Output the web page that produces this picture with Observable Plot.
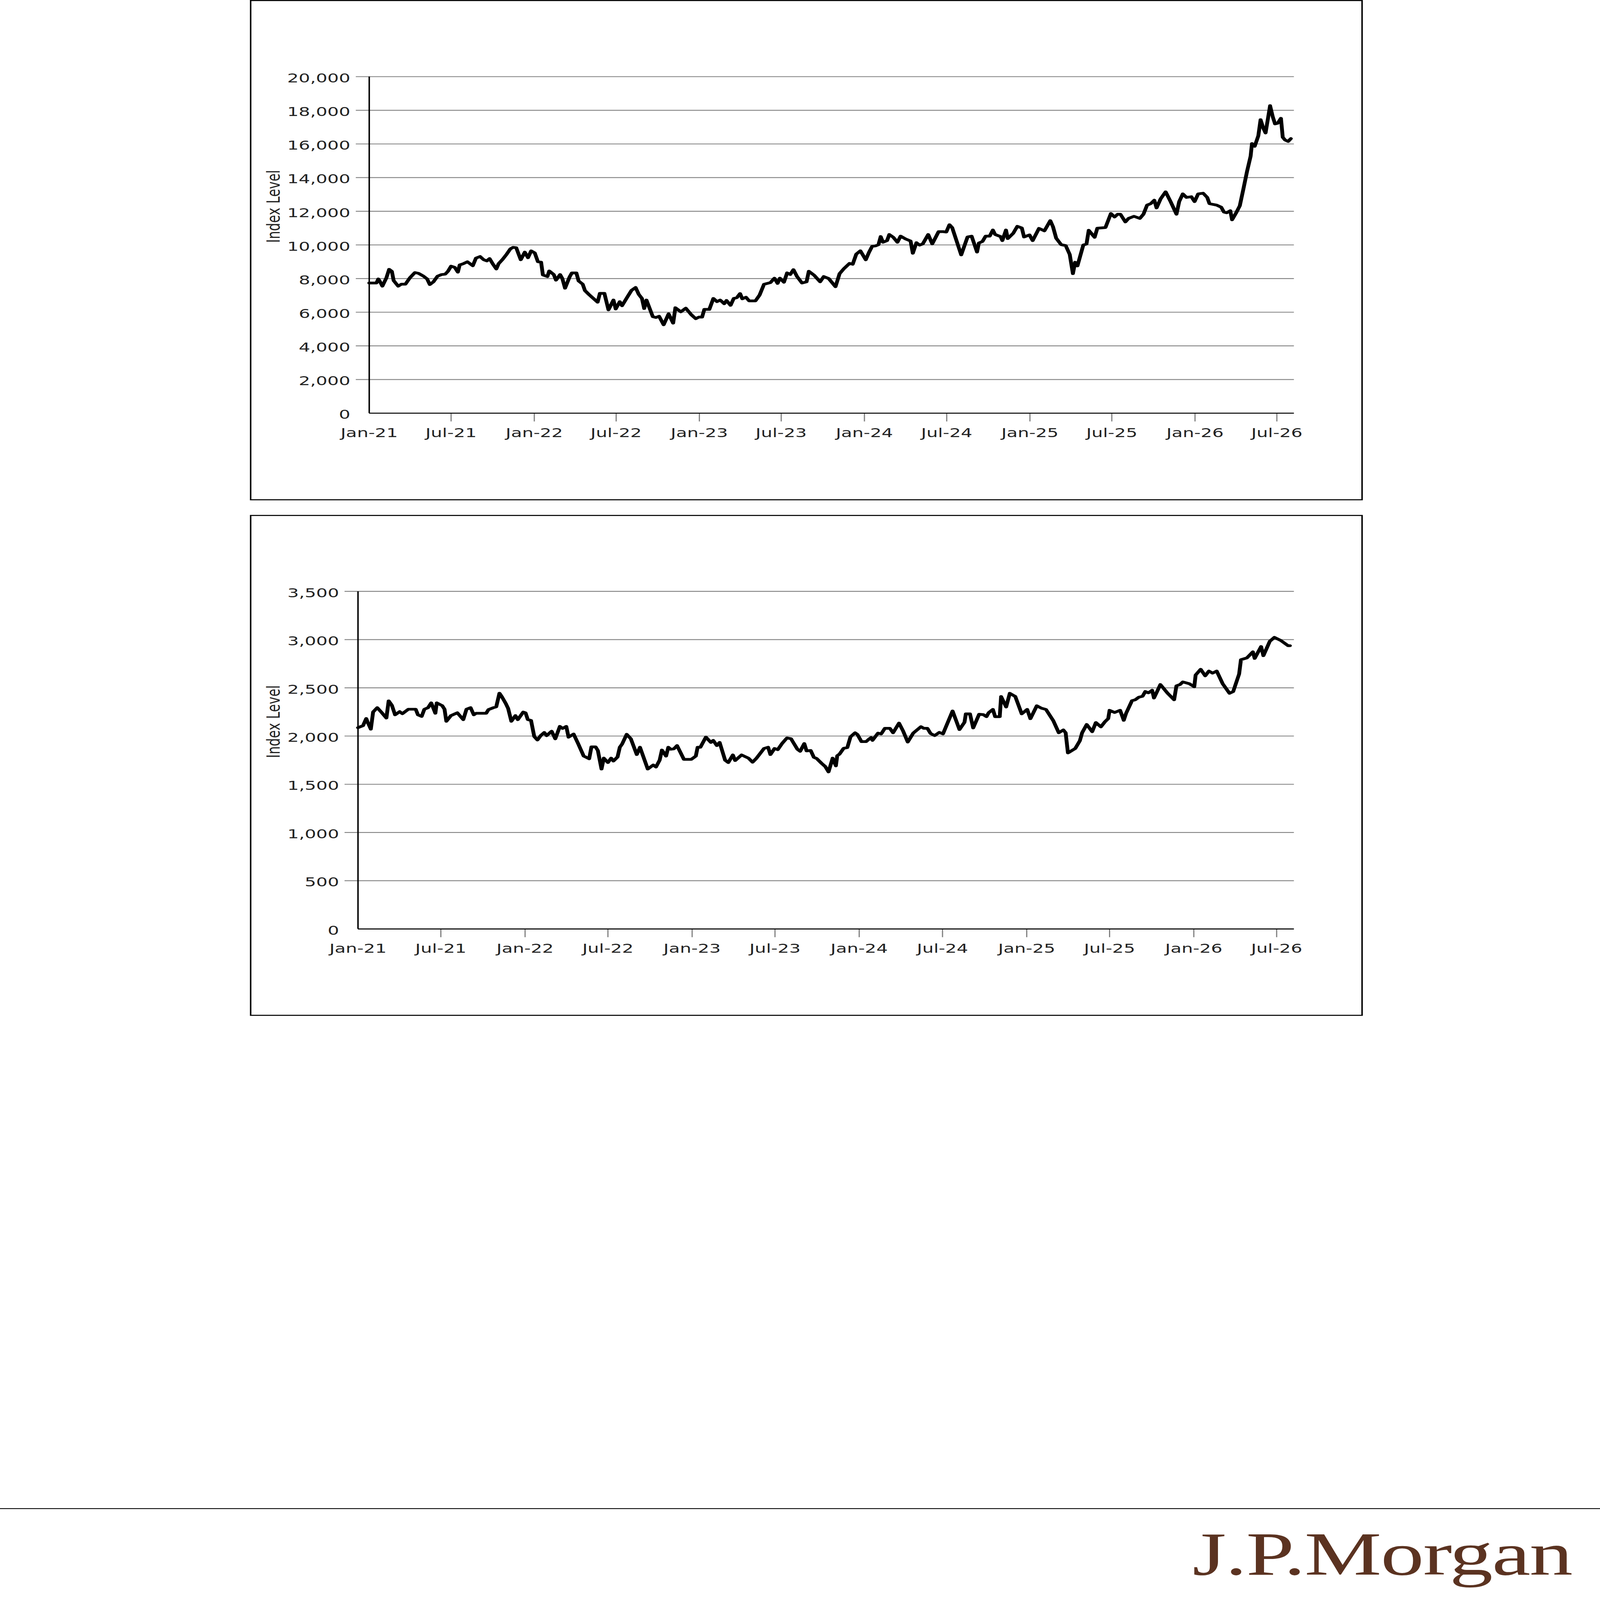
<!DOCTYPE html>
<html><head><meta charset="utf-8">
<script src="https://cdn.jsdelivr.net/npm/d3@7"></script>
<script src="https://cdn.jsdelivr.net/npm/@observablehq/plot@0.6"></script>
<style>
html,body{margin:0;padding:0;background:#fff;overflow:hidden;}
#page{position:absolute;left:0;top:0;width:5410px;height:7650px;background:#fff;overflow:hidden;transform-origin:0 0;}
.box{position:absolute;box-sizing:border-box;border:5px solid #000;background:#fff;}
.box svg{position:absolute;left:0;top:0;}
#rule{position:absolute;left:0;top:7211px;width:5410px;height:4px;background:#000;}
#logo{position:absolute;left:3990px;top:7260px;}
</style></head><body>
<div id="page">
  <div class="box" id="boxA" style="left:845px;top:0px;width:3763px;height:2392px"></div>
  <div class="box" id="boxB" style="left:845px;top:2462px;width:3763px;height:2395px"></div>
  <div id="rule"></div>
  <svg id="logo" width="1400" height="380"><text x="42" y="268" font-family="Liberation Serif" font-size="293" letter-spacing="-3" fill="#5b3321">J.P.Morgan</text></svg>
</div>
<script>
const xTickDates = ["2021-01-01","2021-07-01","2022-01-01","2022-07-01","2023-01-01","2023-07-01","2024-01-01","2024-07-01","2025-01-01","2025-07-01","2026-01-01","2026-07-01"];
const xDomain = ["2021-01-01","2026-08-08"];
const yTicksA = [0,2000,4000,6000,8000,10000,12000,14000,16000,18000,20000];
const yTicksB = [0,500,1000,1500,2000,2500,3000,3500];
const yLabel = "Index Level";

const datesA = ["2021-01-01","2021-01-17","2021-01-21","2021-01-25","2021-01-30","2021-02-08","2021-02-14","2021-02-20","2021-02-24","2021-03-06","2021-03-13","2021-03-22","2021-04-01","2021-04-12","2021-04-20","2021-05-01","2021-05-09","2021-05-15","2021-05-23","2021-06-01","2021-06-10","2021-06-18","2021-06-24","2021-07-01","2021-07-09","2021-07-16","2021-07-20","2021-07-28","2021-08-06","2021-08-18","2021-08-25","2021-09-03","2021-09-11","2021-09-18","2021-09-24","2021-10-01","2021-10-09","2021-10-14","2021-10-23","2021-11-01","2021-11-09","2021-11-15","2021-11-22","2021-11-27","2021-12-02","2021-12-11","2021-12-18","2021-12-25","2022-01-02","2022-01-09","2022-01-16","2022-01-20","2022-01-30","2022-02-03","2022-02-13","2022-02-18","2022-02-27","2022-03-04","2022-03-10","2022-03-20","2022-03-25","2022-04-04","2022-04-09","2022-04-18","2022-04-23","2022-05-02","2022-05-21","2022-05-26","2022-06-05","2022-06-14","2022-06-25","2022-06-30","2022-07-09","2022-07-14","2022-07-26","2022-08-04","2022-08-13","2022-08-20","2022-08-27","2022-09-01","2022-09-06","2022-09-20","2022-09-27","2022-10-04","2022-10-14","2022-10-25","2022-11-04","2022-11-09","2022-11-21","2022-12-02","2022-12-14","2022-12-24","2022-12-31","2023-01-07","2023-01-12","2023-01-23","2023-02-01","2023-02-09","2023-02-16","2023-02-25","2023-03-02","2023-03-11","2023-03-18","2023-03-25","2023-04-01","2023-04-06","2023-04-14","2023-04-21","2023-05-05","2023-05-14","2023-05-24","2023-06-07","2023-06-16","2023-06-23","2023-06-28","2023-07-07","2023-07-14","2023-07-21","2023-07-28","2023-08-05","2023-08-16","2023-08-26","2023-08-31","2023-09-12","2023-09-25","2023-10-03","2023-10-14","2023-10-29","2023-11-07","2023-11-17","2023-11-29","2023-12-06","2023-12-14","2023-12-23","2024-01-04","2024-01-11","2024-01-18","2024-01-25","2024-02-01","2024-02-06","2024-02-11","2024-02-20","2024-02-25","2024-03-05","2024-03-14","2024-03-21","2024-04-01","2024-04-12","2024-04-17","2024-04-25","2024-05-02","2024-05-09","2024-05-21","2024-05-30","2024-06-13","2024-06-23","2024-06-30","2024-07-07","2024-07-13","2024-08-02","2024-08-16","2024-08-25","2024-09-06","2024-09-10","2024-09-18","2024-09-25","2024-10-04","2024-10-11","2024-10-16","2024-10-28","2024-11-01","2024-11-09","2024-11-13","2024-11-25","2024-12-04","2024-12-14","2024-12-19","2024-12-31","2025-01-07","2025-01-21","2025-02-02","2025-02-15","2025-02-21","2025-02-28","2025-03-11","2025-03-21","2025-03-30","2025-04-06","2025-04-11","2025-04-16","2025-04-29","2025-05-06","2025-05-11","2025-05-24","2025-05-30","2025-06-17","2025-06-29","2025-07-07","2025-07-14","2025-07-20","2025-07-31","2025-08-07","2025-08-19","2025-09-01","2025-09-09","2025-09-17","2025-09-25","2025-10-03","2025-10-08","2025-10-17","2025-10-28","2025-11-08","2025-11-21","2025-11-27","2025-12-05","2025-12-13","2025-12-24","2025-12-31","2026-01-08","2026-01-19","2026-01-28","2026-02-02","2026-02-18","2026-02-28","2026-03-06","2026-03-12","2026-03-20","2026-03-24","2026-04-02","2026-04-10","2026-04-18","2026-04-26","2026-05-04","2026-05-07","2026-05-13","2026-05-21","2026-05-26","2026-06-01","2026-06-06","2026-06-16","2026-06-22","2026-06-27","2026-07-03","2026-07-10","2026-07-14","2026-07-19","2026-07-26","2026-08-01"];
const valuesA = [7738,7738,7976,7810,7548,8048,8548,8429,7881,7548,7667,7667,8048,8357,8310,8143,7976,7643,7810,8143,8238,8262,8429,8738,8667,8381,8810,8881,9000,8762,9214,9310,9119,9048,9190,8881,8571,8881,9143,9452,9762,9857,9833,9476,9119,9571,9238,9643,9524,9000,8976,8214,8119,8452,8238,7905,8238,8000,7429,8095,8333,8333,7857,7667,7286,7048,6595,7119,7119,6140,6723,6193,6627,6386,6916,7301,7470,7060,6819,6217,6723,5735,5687,5759,5253,5904,5350,6265,6024,6241,5856,5615,5711,5711,6169,6169,6819,6627,6723,6506,6699,6410,6819,6868,7108,6795,6892,6675,6675,7012,7663,7759,8024,7711,8024,7783,8337,8241,8530,8120,7735,7807,8434,8193,7807,8120,8000,7518,8289,8600,8900,8849,9455,9649,9115,9552,9915,9940,10012,10497,10158,10255,10618,10449,10158,10521,10352,10230,9503,10133,9988,10061,10618,10061,10788,10788,10764,11200,11030,9406,10473,10521,9576,10109,10206,10521,10521,10885,10618,10497,10255,10885,10376,10691,11103,11006,10473,10594,10255,10982,10836,11442,11079,10400,10012,9964,9430,8291,8970,8752,9993,10050,10870,10451,10992,11034,11866,11658,11824,11824,11367,11575,11700,11575,11824,12365,12449,12657,12199,12740,13156,12574,11824,12574,13032,12823,12865,12574,13032,13073,12823,12449,12365,12240,11949,11908,12032,11491,11908,12324,13323,14363,15279,16027,15861,16485,17442,16943,16652,18275,17609,17193,17234,17526,16402,16236,16152,16319];

const datesB = ["2021-01-01","2021-01-12","2021-01-19","2021-01-22","2021-01-29","2021-02-03","2021-02-12","2021-02-20","2021-03-04","2021-03-09","2021-03-16","2021-03-23","2021-04-02","2021-04-08","2021-04-21","2021-05-07","2021-05-12","2021-05-20","2021-05-26","2021-06-03","2021-06-10","2021-06-19","2021-06-22","2021-07-04","2021-07-09","2021-07-13","2021-07-23","2021-08-06","2021-08-19","2021-08-26","2021-09-04","2021-09-11","2021-09-16","2021-10-08","2021-10-13","2021-10-24","2021-10-30","2021-11-06","2021-11-11","2021-11-20","2021-11-25","2021-12-02","2021-12-11","2021-12-16","2021-12-28","2022-01-02","2022-01-07","2022-01-14","2022-01-21","2022-01-28","2022-02-04","2022-02-12","2022-02-17","2022-02-28","2022-03-08","2022-03-18","2022-03-24","2022-04-01","2022-04-06","2022-04-17","2022-04-27","2022-05-09","2022-05-21","2022-05-26","2022-06-04","2022-06-09","2022-06-17","2022-06-22","2022-07-01","2022-07-08","2022-07-13","2022-07-22","2022-07-27","2022-08-01","2022-08-11","2022-08-20","2022-09-02","2022-09-09","2022-09-26","2022-10-08","2022-10-14","2022-10-22","2022-10-27","2022-11-05","2022-11-10","2022-11-15","2022-11-22","2022-11-29","2022-12-14","2022-12-30","2023-01-09","2023-01-13","2023-01-19","2023-01-31","2023-02-11","2023-02-16","2023-02-24","2023-03-02","2023-03-14","2023-03-21","2023-03-31","2023-04-05","2023-04-19","2023-05-04","2023-05-13","2023-05-21","2023-06-07","2023-06-16","2023-06-21","2023-06-30","2023-07-07","2023-07-17","2023-07-27","2023-08-05","2023-08-19","2023-08-25","2023-09-03","2023-09-08","2023-09-17","2023-09-24","2023-09-30","2023-10-11","2023-10-19","2023-10-26","2023-11-04","2023-11-11","2023-11-14","2023-11-19","2023-11-28","2023-12-06","2023-12-13","2023-12-23","2023-12-28","2024-01-06","2024-01-16","2024-01-23","2024-01-27","2024-01-30","2024-02-11","2024-02-18","2024-02-26","2024-03-08","2024-03-15","2024-03-28","2024-04-06","2024-04-16","2024-04-28","2024-05-15","2024-05-21","2024-05-29","2024-06-05","2024-06-14","2024-06-24","2024-07-02","2024-07-23","2024-08-07","2024-08-18","2024-08-21","2024-08-30","2024-09-06","2024-09-19","2024-09-28","2024-10-05","2024-10-10","2024-10-19","2024-10-24","2024-11-03","2024-11-06","2024-11-17","2024-11-25","2024-12-07","2024-12-21","2025-01-02","2025-01-09","2025-01-23","2025-02-02","2025-02-12","2025-02-28","2025-03-12","2025-03-22","2025-03-27","2025-04-01","2025-04-17","2025-04-27","2025-05-02","2025-05-12","2025-05-24","2025-06-01","2025-06-12","2025-06-21","2025-06-28","2025-07-01","2025-07-12","2025-07-24","2025-08-01","2025-08-06","2025-08-19","2025-08-26","2025-09-03","2025-09-11","2025-09-17","2025-09-24","2025-10-02","2025-10-06","2025-10-20","2025-11-05","2025-11-19","2025-11-24","2025-12-02","2025-12-08","2025-12-22","2026-01-02","2026-01-05","2026-01-16","2026-01-26","2026-02-03","2026-02-11","2026-02-20","2026-03-05","2026-03-20","2026-03-28","2026-04-10","2026-04-14","2026-04-27","2026-05-10","2026-05-14","2026-05-28","2026-06-02","2026-06-16","2026-06-26","2026-07-10","2026-07-26","2026-07-30"];
const valuesB = [2087,2108,2182,2145,2071,2249,2294,2253,2187,2365,2319,2220,2253,2232,2278,2278,2220,2203,2278,2294,2344,2236,2344,2315,2278,2153,2212,2241,2170,2278,2294,2220,2236,2236,2274,2294,2303,2444,2410,2336,2286,2153,2212,2170,2249,2241,2170,2162,1996,1959,2004,2037,2004,2050,1971,2100,2079,2100,1988,2021,1921,1793,1764,1888,1888,1850,1658,1771,1725,1771,1741,1783,1884,1917,2018,1972,1808,1884,1658,1700,1679,1750,1855,1792,1884,1863,1867,1901,1758,1758,1792,1884,1884,1989,1934,1955,1901,1934,1750,1725,1804,1746,1804,1771,1729,1767,1871,1884,1808,1871,1859,1926,1980,1972,1863,1842,1922,1846,1850,1779,1767,1716,1683,1628,1771,1691,1796,1813,1873,1880,1992,2034,2017,1942,1942,1971,1984,1955,2030,2022,2080,2080,2034,2134,2051,1938,2030,2097,2080,2080,2026,2005,2038,2022,2260,2067,2143,2230,2230,2084,2226,2222,2201,2243,2276,2201,2201,2410,2301,2443,2410,2230,2276,2180,2314,2289,2276,2159,2034,2063,2034,1825,1871,1951,2034,2120,2045,2140,2095,2149,2181,2267,2244,2267,2163,2235,2367,2376,2403,2412,2462,2448,2475,2394,2534,2443,2376,2520,2534,2561,2543,2511,2633,2692,2624,2674,2652,2674,2543,2443,2461,2643,2792,2810,2873,2805,2928,2833,2982,3023,2991,2937,2937];

const utc = s => new Date(s + "T00:00:00Z");

function chart({dates, values, yTicks, yMax, width, height, marginLeft, marginRight, marginTop, marginBottom, labelDx}) {
  const data = dates.map((d, i) => ({date: utc(d), value: values[i]}));
  const xt = xTickDates.map(utc);
  const x0 = utc(xDomain[0]);
  const inner = yTicks.filter(v => v > 0);
  return Plot.plot({
    width, height, marginLeft, marginRight, marginTop, marginBottom,
    style: {fontFamily: "DejaVu Sans", fontSize: "61px", color: "#222", background: "transparent", overflow: "visible"},
    x: {type: "utc", domain: xDomain.map(utc)},
    y: {domain: [0, yMax]},
    marks: [
      Plot.ruleY(inner, {stroke: "#808080", strokeWidth: 4}),
      Plot.axisY(inner, {tickSize: 45, stroke: "#808080", strokeWidth: 4, fill: "none", label: null}),
      Plot.axisY(yTicks, {tickSize: 0, tickPadding: 64, tickFormat: d3.format(","), fill: "#222", dy: 8, label: null}),
      Plot.axisX(xt.slice(1), {tickSize: 40, stroke: "#808080", strokeWidth: 4, fill: "none", label: null}),
      Plot.axisX(xt, {tickSize: 0, tickPadding: 71, tickFormat: d3.utcFormat("%b-%y"), fill: "#222", label: null}),
      Plot.ruleY([0], {stroke: "#000", strokeWidth: 5}),
      Plot.ruleX([x0], {y1: 0, y2: yMax, stroke: "#000", strokeWidth: 5}),
      Plot.line(data, {x: "date", y: "value", stroke: "#000", strokeWidth: 13, strokeLinejoin: "round", strokeLinecap: "round"}),
      Plot.text([yLabel], {frameAnchor: "left", dx: labelDx, dy: -10, rotate: -90, fill: "#222", fontSize: 61})
    ]
  });
}

document.getElementById("boxA").append(chart({
  dates: datesA, values: valuesA, yTicks: yTicksA, yMax: 20000,
  width: 3753, height: 2382, marginLeft: 398, marginRight: 228, marginTop: 361, marginBottom: 412, labelDx: -323
}));
document.getElementById("boxB").append(chart({
  dates: datesB, values: valuesB, yTicks: yTicksB, yMax: 3500,
  width: 3753, height: 2385, marginLeft: 360, marginRight: 228, marginTop: 360, marginBottom: 411, labelDx: -285
}));

// The page is laid out at 5410x7650; fit it into whatever viewport the browser really has.
function fit() {
  const w = window.innerWidth, h = window.innerHeight;
  const sx = Math.min(1, w / 5410), sy = Math.min(1, h / 7650);
  document.getElementById("page").style.transform = `scale(${sx}, ${sy})`;
}
fit();
window.addEventListener("resize", fit);
</script>
</body></html>
